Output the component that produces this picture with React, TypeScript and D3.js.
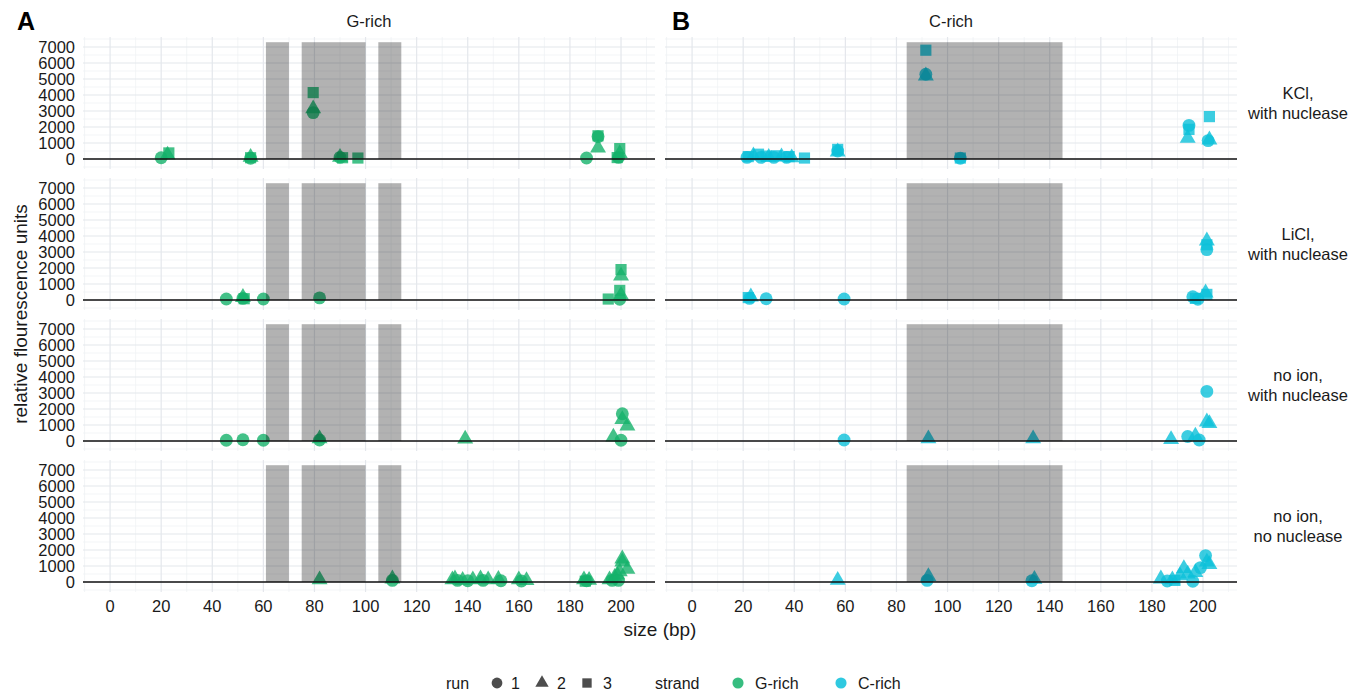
import React from "react";
import * as d3 from "d3";

// ---- data: [size (bp), relative fluorescence, run] ----
const gKCl: number[][] = [
  [20, 80, 1], [22.5, 250, 2], [23, 380, 3], [55, 50, 1], [55, 120, 2], [55, 80, 3],
  [79.5, 2900, 1], [79.5, 3150, 2], [79.5, 4150, 3], [90, 100, 1], [90, 120, 2], [91, 80, 3], [97, 60, 3],
  [186.5, 60, 1], [191, 1400, 1], [191, 690, 2], [191, 1450, 3], [199, 100, 1], [199.5, 350, 2], [199.5, 650, 3], [198.5, 90, 3],
];
const cKCl: number[][] = [
  [21.5, 100, 1], [22, 150, 3], [24, 200, 2], [26, 300, 3], [27, 100, 1], [29, 180, 3], [30, 120, 2],
  [32, 100, 1], [33, 200, 3], [35, 150, 2], [37, 100, 1], [38, 150, 3], [39, 80, 2], [44, 60, 3],
  [57, 600, 3], [57, 450, 2], [57, 500, 1], [91.5, 6800, 3], [91.5, 5300, 1], [91.5, 5200, 2],
  [105, 50, 1], [105, 60, 3], [194.5, 2100, 1], [194.5, 1850, 3], [194, 1300, 2],
  [202.5, 2650, 3], [202.5, 1200, 2], [202, 1150, 1],
];
const gLiCl: number[][] = [
  [45.5, 60, 1], [52, 100, 1], [52, 170, 2], [52.5, 80, 3], [60, 60, 1], [82, 130, 1],
  [195, 60, 3], [200, 1900, 3], [200, 1500, 2], [199.5, 600, 3], [200, 300, 2], [199.5, 50, 1],
];
const cLiCl: number[][] = [
  [22, 150, 3], [22.5, 100, 1], [23, 200, 2], [29, 80, 1], [59.5, 60, 1],
  [196, 200, 1], [197, 100, 3], [198, 50, 1], [201, 450, 2], [201.5, 350, 3],
  [201.5, 3700, 2], [201.5, 3450, 3], [201.5, 3150, 1],
];
const gNoIon: number[][] = [
  [45.5, 50, 1], [52, 80, 1], [60, 50, 1], [82, 150, 2], [82, 60, 1], [139, 130, 2],
  [197, 250, 2], [200.5, 1700, 1], [200.5, 1350, 2], [202.5, 950, 2], [200, 50, 1],
];
const cNoIon: number[][] = [
  [59.5, 60, 1], [92.5, 150, 2], [133.5, 150, 2], [187.5, 100, 2], [194, 280, 1],
  [197, 320, 2], [198.5, 60, 1], [201.5, 3100, 1], [201.5, 1200, 2], [202.5, 1100, 2],
];
const gNoNuc: number[][] = [
  [82, 150, 2], [110.5, 200, 2], [110.5, 100, 1],
  [134, 150, 2], [135, 200, 2], [136, 100, 1], [138, 120, 2], [140, 80, 1], [142, 150, 2],
  [145, 200, 2], [146, 100, 1], [148, 150, 2], [152, 180, 2], [153, 80, 1],
  [160, 150, 2], [161, 60, 1], [163, 100, 2],
  [185.5, 150, 2], [186.5, 80, 1], [187.5, 120, 2], [186, 50, 3],
  [195.5, 150, 2], [196.5, 100, 1], [197.5, 300, 2], [198.5, 450, 2], [199.5, 650, 2],
  [200.5, 1450, 2], [200.5, 1250, 2], [202.5, 800, 2], [199, 100, 1],
];
const cNoNuc: number[][] = [
  [57, 120, 2], [92.5, 350, 2], [92, 100, 1], [133, 80, 1], [134, 180, 2],
  [183.5, 200, 2], [186, 60, 1], [188, 150, 2], [189, 100, 3], [191, 400, 2], [192.5, 850, 2],
  [194, 500, 2], [196, 50, 1], [197, 600, 2], [199, 900, 1], [201, 1650, 1], [201.5, 1250, 2], [202.5, 1100, 2],
];

const strands = ["G-rich", "C-rich"];
const conditions = [["KCl,", "with nuclease"], ["LiCl,", "with nuclease"], ["no ion,", "with nuclease"], ["no ion,", "no nuclease"]];
const panelData = [[gKCl, cKCl], [gLiCl, cLiCl], [gNoIon, cNoIon], [gNoNuc, cNoNuc]];
const shadeG = [[61, 70], [75, 100], [105, 114]];
const shadeC = [[84, 145]];
const shadeTop = 7300;
const xTicks = [0, 20, 40, 60, 80, 100, 120, 140, 160, 180, 200];
const yTicks = [0, 1000, 2000, 3000, 4000, 5000, 6000, 7000];
const runs = ["1", "2", "3"];

const COLORS: Record<string, string> = { "G-rich": "#14B26A", "C-rich": "#0BC0DA" };
const FONT = "'Liberation Sans', Arial, Helvetica, sans-serif";

const symTypes = [d3.symbolCircle, d3.symbolTriangle, d3.symbolSquare];
const symSizes = [130, 110, 125];
const symPath = (run: number, scale = 1) =>
  d3.symbol().type(symTypes[run - 1]).size(symSizes[run - 1] * scale)() as string;

const colX = [[83, 655], [665, 1237]];
const rowTop = (i: number) => 37 + 141 * i;
const rowH = 132;

export default function App() {
  const xDomain = [-10.6, 213.3];
  const yDomain = [-625, 7625];
  const minorX = d3.range(-10, 211, 20);
  const minorY = d3.range(-500, 7501, 1000);

  const panels: React.ReactNode[] = [];
  panelData.forEach((row, ri) => {
    row.forEach((pts, ci) => {
      const x = d3.scaleLinear().domain(xDomain).range(colX[ci]);
      const y = d3.scaleLinear().domain(yDomain).range([rowTop(ri) + rowH, rowTop(ri)]);
      const [x0, x1] = colX[ci];
      const [yb, yt] = [rowTop(ri) + rowH, rowTop(ri)];
      const strand = strands[ci];
      const shades = ci === 0 ? shadeG : shadeC;
      panels.push(
        <g key={`p${ri}-${ci}`}>
          {minorY.map((v) => (
            <line key={`my${v}`} x1={x0} x2={x1} y1={y(v)} y2={y(v)} stroke="#EEF0F3" strokeWidth={0.7} />
          ))}
          {minorX.map((v) => (
            <line key={`mx${v}`} y1={yb} y2={yt} x1={x(v)} x2={x(v)} stroke="#EEF0F3" strokeWidth={0.7} />
          ))}
          {yTicks.map((v) => (
            <line key={`gy${v}`} x1={x0} x2={x1} y1={y(v)} y2={y(v)} stroke="#E4E7EC" strokeWidth={1.2} />
          ))}
          {xTicks.map((v) => (
            <line key={`gx${v}`} y1={yb} y2={yt} x1={x(v)} x2={x(v)} stroke="#E4E7EC" strokeWidth={1.2} />
          ))}
          {pts.map((p, k) => (
            <path
              key={`pt${k}`}
              d={symPath(p[2])}
              transform={`translate(${x(p[0])},${y(p[1])})`}
              fill={COLORS[strand]}
              fillOpacity={0.8}
            />
          ))}
          {shades.map((s, k) => (
            <rect
              key={`sh${k}`}
              x={x(s[0])}
              width={x(s[1]) - x(s[0])}
              y={y(shadeTop)}
              height={y(0) - y(shadeTop)}
              fill="#000"
              fillOpacity={0.3}
            />
          ))}
          <line x1={x0} x2={x1} y1={y(0)} y2={y(0)} stroke="#111" strokeWidth={1.6} />
          {ci === 0 &&
            yTicks.map((v) => (
              <text key={`yl${v}`} x={75} y={y(v)} dy="0.36em" textAnchor="end" fontSize={16.5} fill="#1a1a1a" fontFamily={FONT}>
                {v}
              </text>
            ))}
          {ri === 3 &&
            xTicks.map((v) => (
              <text key={`xl${v}`} x={x(v)} y={612} textAnchor="middle" fontSize={16.5} fill="#1a1a1a" fontFamily={FONT}>
                {v}
              </text>
            ))}
        </g>
      );
    });
  });

  return (
    <svg width={1366} height={692} style={{ position: "absolute", left: 0, top: 0, background: "#fff" }} fontFamily={FONT}>
      <rect width={1366} height={692} fill="#fff" />
      {panels}
      <text x={17} y={30} fontSize={25} fontWeight="bold" fill="#000">A</text>
      <text x={672} y={30} fontSize={25} fontWeight="bold" fill="#000">B</text>
      {strands.map((s, ci) => (
        <text key={s} x={(colX[ci][0] + colX[ci][1]) / 2} y={27} textAnchor="middle" fontSize={16.5} fill="#1a1a1a">
          {s}
        </text>
      ))}
      {conditions.map((c, ri) => (
        <text key={ri} x={1298} y={rowTop(ri) + rowH / 2} textAnchor="middle" fontSize={16.5} fill="#1a1a1a">
          <tspan x={1298} dy="-0.25em">{c[0]}</tspan>
          <tspan x={1298} dy="1.2em">{c[1]}</tspan>
        </text>
      ))}
      <text transform={`translate(27,314) rotate(-90)`} textAnchor="middle" fontSize={19} fill="#1a1a1a">
        relative flourescence units
      </text>
      <text x={660} y={636} textAnchor="middle" fontSize={19} fill="#1a1a1a">
        size (bp)
      </text>
      {/* legend */}
      <g fontSize={16} fill="#1a1a1a">
        <text x={446} y={689}>run</text>
        {runs.map((r, i) => (
          <g key={r}>
            <path d={symPath(i + 1, 0.7)} transform={`translate(${497 + i * 45},683)`} fill="#4d4d4d" />
            <text x={511 + i * 46} y={689}>{r}</text>
          </g>
        ))}
        <text x={655} y={689}>strand</text>
        {strands.map((s, i) => (
          <g key={s}>
            <path d={symPath(1, 0.75)} transform={`translate(${738 + i * 103},683)`} fill={COLORS[s]} fillOpacity={0.85} />
            <text x={755 + i * 103} y={689}>{s}</text>
          </g>
        ))}
      </g>
    </svg>
  );
}
